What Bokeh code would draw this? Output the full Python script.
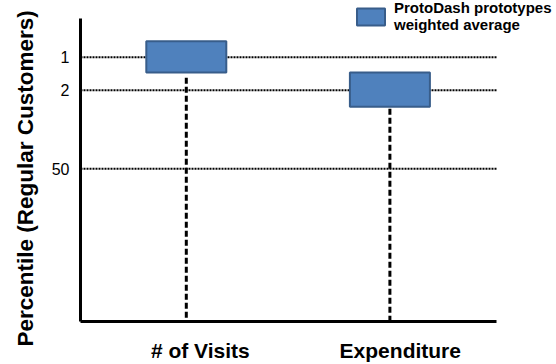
from bokeh.plotting import figure
from bokeh.models import Range1d, FixedTicker, Legend, LegendItem, ColumnDataSource, Title
from bokeh.embed import file_html
from bokeh.resources import INLINE

# ---- data ----
categories = ["# of Visits", "Expenditure"]
category_pos = [1, 2]
box_center = [0.93, 1.948]
box_top = [0.515, 1.464]
box_bottom = [1.464, 2.506]
whisker_start = [1.62, 2.56]
percentile_labels = ["1", "2", "50"]
percentile_pos = [1, 2, 4.39]
legend_label = "ProtoDash prototypes\nweighted average"
y_title = "Percentile (Regular Customers)"

# axis extents (data units) and visible ranges
X_START, X_AXIS_END, X_END = 0.401, 2.481, 2.781
Y_BOTTOM, Y_AXIS_TOP, Y_TOP = 9.03, -0.18, -0.727
BOX_HALF = 0.2

FONT = "Liberation Sans"
FILL = "#4F81BD"
EDGE = "#385D8A"

p = figure(width=556, height=364, output_backend="svg", toolbar_location=None,
           x_range=Range1d(X_START, X_END), y_range=Range1d(Y_BOTTOM, Y_TOP),
           min_border_left=79, min_border_right=0, min_border_top=0, min_border_bottom=42)
p.outline_line_color = None
p.background_fill_color = "white"
p.border_fill_color = "white"
p.xgrid.grid_line_color = None
p.ygrid.grid_line_color = None

# dotted horizontal grid lines, limited to the axis extent
grid_src = ColumnDataSource(dict(y=percentile_pos,
                                 x0=[X_START] * len(percentile_pos),
                                 x1=[X_AXIS_END] * len(percentile_pos)))
p.segment(x0="x0", y0="y", x1="x1", y1="y", source=grid_src,
          line_color="black", line_width=2, line_dash="2 1")

box_src = ColumnDataSource(dict(
    left=[c - BOX_HALF for c in box_center],
    right=[c + BOX_HALF for c in box_center],
    top=box_top, bottom=box_bottom))
whisk_src = ColumnDataSource(dict(x=box_center, y0=whisker_start,
                                  y1=[Y_BOTTOM] * len(box_center)))

p.segment(x0="x", y0="y0", x1="x", y1="y1", source=whisk_src,
          line_color="black", line_width=3, line_dash="6 3")
boxes = p.quad(left="left", right="right", top="top", bottom="bottom", source=box_src,
               fill_color=FILL, line_color=EDGE, line_width=2)

# axes
p.xaxis.ticker = FixedTicker(ticks=category_pos)
p.xaxis.major_label_overrides = {k: v for k, v in zip(category_pos, categories)}
p.xaxis.bounds = (X_START, X_AXIS_END)
p.yaxis.ticker = FixedTicker(ticks=percentile_pos)
p.yaxis.major_label_overrides = {k: v for k, v in zip(percentile_pos, percentile_labels)}
p.yaxis.bounds = (Y_AXIS_TOP, Y_BOTTOM)

for ax in (p.xaxis[0], p.yaxis[0]):
    ax.axis_line_width = 3
    ax.axis_line_color = "black"
    ax.major_tick_line_color = None
    ax.minor_tick_line_color = None
    ax.major_tick_out = 0
    ax.major_tick_in = 0
    ax.major_label_text_font = FONT
    ax.major_label_text_color = "black"

p.xaxis.major_label_text_font_size = "21px"
p.xaxis.major_label_text_font_style = "bold"
p.xaxis.major_label_standoff = 17

p.yaxis.major_label_text_font_size = "16px"
p.yaxis.major_label_standoff = 11

# y-axis title (as a side title so it can be offset along the axis)
p.add_layout(Title(text=y_title, align="left", offset=-25, standoff=21,
                   text_font=FONT, text_font_size="22.5px", text_font_style="bold",
                   text_color="black"), "left")

legend = Legend(items=[LegendItem(label=legend_label, renderers=[boxes])],
                location=(273, 288), orientation="vertical",
                label_text_font=FONT, label_text_font_size="15px", label_text_font_style="bold",
                label_text_color="black", label_text_line_height=1.0,
                glyph_width=35, glyph_height=21, label_standoff=6,
                padding=0, margin=0, spacing=0,
                border_line_alpha=0, background_fill_alpha=0)
p.add_layout(legend, "center")

open("out.html", "w").write(file_html(p, INLINE))
